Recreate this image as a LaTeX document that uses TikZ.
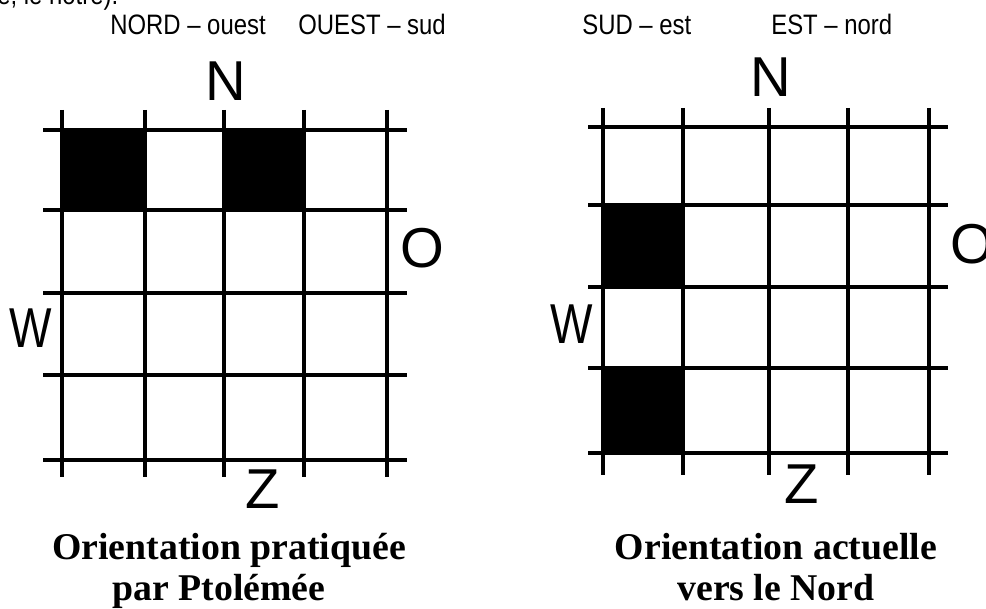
\documentclass[tikz,border=0pt]{standalone}
\usepackage{fontspec}
\setmainfont{Liberation Serif}
\setsansfont{Liberation Sans}
\usetikzlibrary{positioning}

\begin{document}
\begin{tikzpicture}[
    x=0.2mm, y=-0.2mm,
    gridline/.style={line width=1.9pt},
    cell/.style={fill=black},
    wind/.style={font=\sffamily\fontsize{32}{36}\selectfont, inner sep=0pt},
    head/.style={font=\sffamily\fontsize{16}{19}\selectfont, xscale=0.85, inner sep=0pt, anchor=base west},
    caption/.style={font=\bfseries\fontsize{21.5}{24}\selectfont, inner sep=0pt, anchor=base},
]
    \useasboundingbox (0,0) rectangle (986,609);

    % Cut-off line of the page and the cut-off O
    \begin{scope}
        \clip (0,0) rectangle (986,609);
        \node[head] (prevline) at (-3,5) {e, le notre).};
        \node[wind] (eastR) at (972,244) {O};
    \end{scope}

    % Headings
    \node[head] (nordouest) at (110,35) {NORD – ouest};
    \node[head] (ouestsud) at (298,35) {OUEST – sud};
    \node[head] (sudest) at (582,35) {SUD – est};
    \node[head] (estnord) at (771,35) {EST – nord};

    % Ptolemy grid
    \fill[cell] (62,130) rectangle (145,210);
    \fill[cell] (224,130) rectangle (304,210);
    \foreach \x in {62,145,224,304,387}
        \draw[gridline] (\x,110) -- (\x,477);
    \foreach \y in {130,210,293,375,460}
        \draw[gridline] (43,\y) -- (407,\y);
    \node[wind] (northL) at (226,81) {N};
    \node[wind] (eastL) at (422,248) {O};
    \node[wind, xscale=0.8] (westL) at (31,328) {W};
    \node[wind] (southL) at (263,489) {Z};

    % Modern grid
    \fill[cell] (603,205) rectangle (683,287);
    \fill[cell] (603,368) rectangle (683,453);
    \foreach \x in {603,683,769,848,929}
        \draw[gridline] (\x,108) -- (\x,475);
    \foreach \y in {127,205,287,368,453}
        \draw[gridline] (588,\y) -- (948,\y);
    \node[wind] (northR) at (771,77) {N};
    \node[wind, xscale=0.8] (westR) at (572,324) {W};
    \node[wind] (southR) at (802,484) {Z};

    % Captions
    \node[caption] (capL1) at (229,559) {Orientation pratiquée};
    \node[caption] (capL2) at (219,600) {par Ptolémée};
    \node[caption] (capR1) at (776,559) {Orientation actuelle};
    \node[caption] (capR2) at (776,600) {vers le Nord};
\end{tikzpicture}
\end{document}
